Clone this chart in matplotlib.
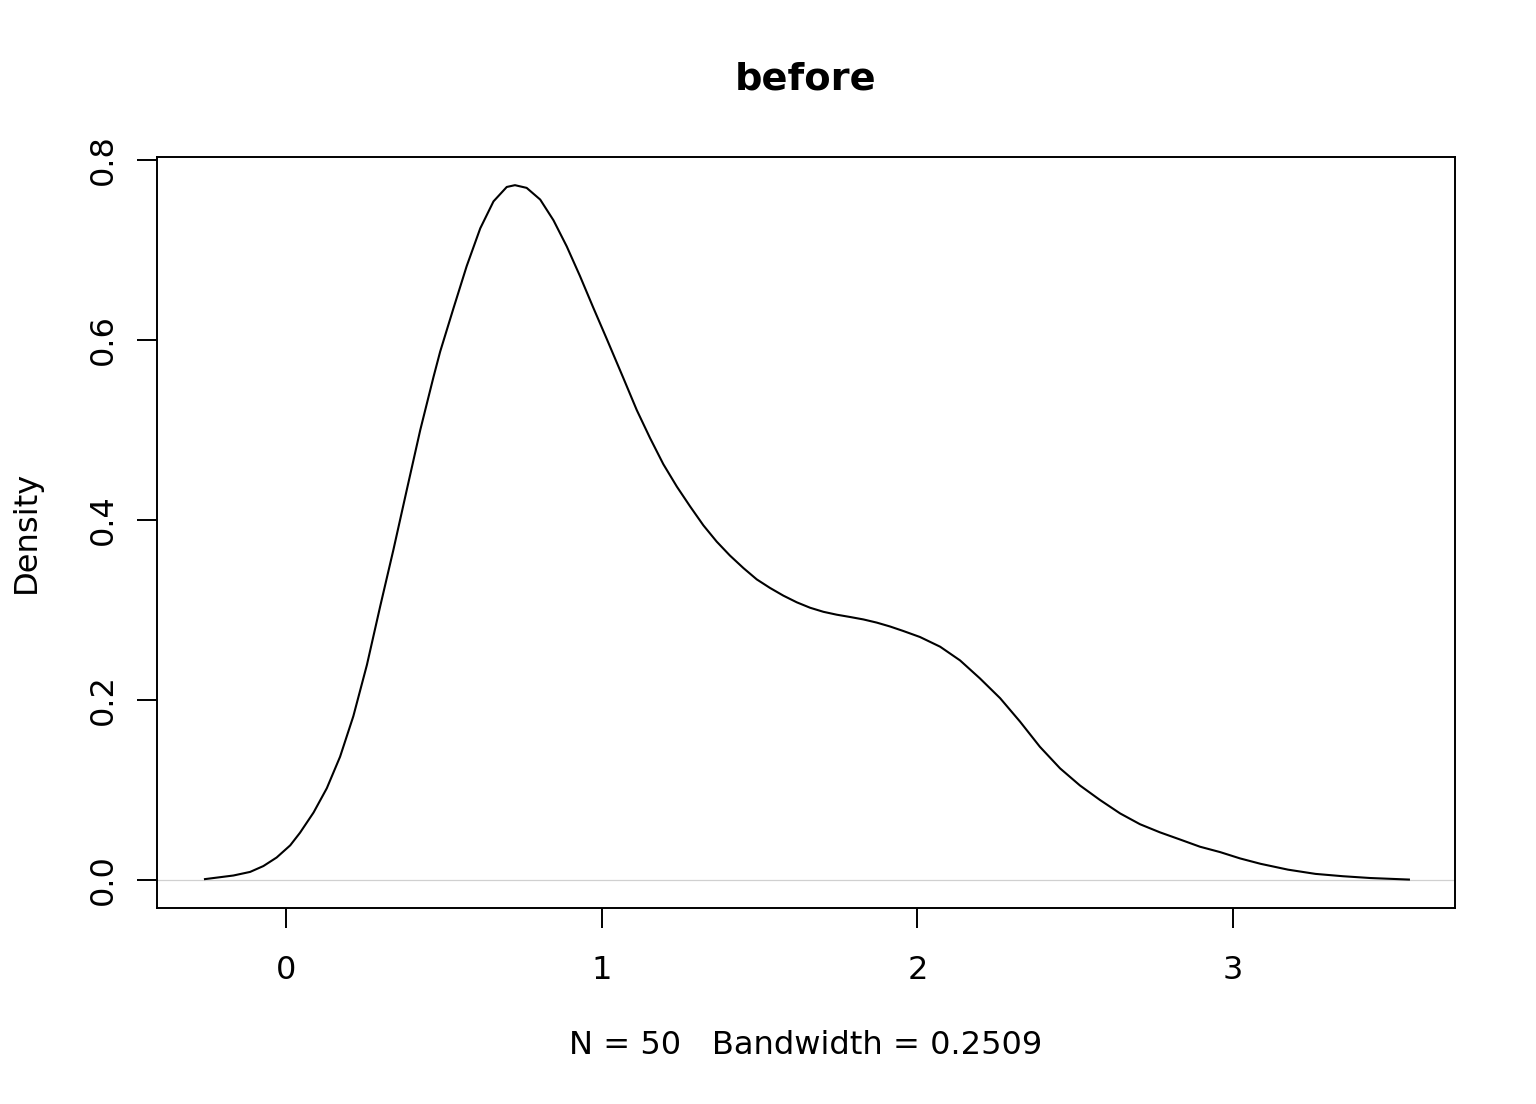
import matplotlib
matplotlib.use("Agg")
import matplotlib.pyplot as plt

# Density estimate
x_vals = [-0.257, -0.167, -0.114, -0.072, -0.030, 0.013, 0.044, 0.087, 0.129, 0.171,
          0.213, 0.256, 0.298, 0.340, 0.382, 0.425, 0.467, 0.488, 0.530, 0.572,
          0.615, 0.657, 0.699, 0.725, 0.762, 0.805, 0.847, 0.889, 0.931, 0.973,
          1.016, 1.068, 1.111, 1.153, 1.195, 1.238, 1.280, 1.322, 1.364, 1.406,
          1.449, 1.491, 1.533, 1.575, 1.618, 1.660, 1.702, 1.744, 1.787, 1.829,
          1.871, 1.913, 1.955, 2.008, 2.072, 2.135, 2.198, 2.262, 2.325, 2.388,
          2.452, 2.515, 2.578, 2.642, 2.705, 2.768, 2.832, 2.895, 2.959, 3.022,
          3.087, 3.174, 3.261, 3.348, 3.435, 3.557]
y_vals = [0.001, 0.005, 0.009, 0.0155, 0.025, 0.0385, 0.0525, 0.075, 0.102, 0.137,
          0.182, 0.239, 0.304, 0.367, 0.433, 0.500, 0.559, 0.587, 0.635, 0.682,
          0.724, 0.754, 0.770, 0.772, 0.769, 0.756, 0.733, 0.704, 0.671, 0.636,
          0.601, 0.558, 0.522, 0.491, 0.462, 0.437, 0.415, 0.394, 0.376, 0.3605,
          0.3465, 0.334, 0.3245, 0.316, 0.3085, 0.3025, 0.298, 0.2948, 0.2922, 0.2895,
          0.286, 0.2817, 0.2767, 0.270, 0.2592, 0.244, 0.224, 0.202, 0.176, 0.148,
          0.124, 0.105, 0.089, 0.074, 0.062, 0.053, 0.045, 0.037, 0.031, 0.024,
          0.018, 0.0115, 0.0068, 0.0042, 0.0022, 0.0005]

x_ticks = [0, 1, 2, 3]
y_ticks = [0.0, 0.2, 0.4, 0.6, 0.8]
y_tick_labels = ["0.0", "0.2", "0.4", "0.6", "0.8"]
title = "before"
x_label = "N = 50   Bandwidth = 0.2509"
y_label = "Density"

plt.rcParams['font.family'] = ['DejaVu Sans']
W, H = 1536, 1104
fig = plt.figure(figsize=(W / 100, H / 100), dpi=100)
ax = fig.add_axes([157 / W, 1 - 908 / H, (1455 - 157) / W, (908 - 157) / H])

ax.axhline(0, color='#d0d0d0', lw=0.9, zorder=1)
ax.plot(x_vals, y_vals, color='black', lw=1.5, zorder=2,
        solid_joinstyle='round')

ax.set_xlim(-0.409, 3.703)
ax.set_ylim(-0.0311, 0.8033)
ax.set_xticks(x_ticks)
ax.set_xticklabels([str(t) for t in x_ticks])
ax.set_yticks(y_ticks)
ax.set_yticklabels(y_tick_labels)

for s in ax.spines.values():
    s.set_linewidth(1.4)
    s.set_color('black')

ax.tick_params(axis='both', direction='out', length=14.4, width=1.4,
               labelsize=23, colors='black')
ax.tick_params(axis='x', pad=19.5)
ax.tick_params(axis='y', pad=13)
for lab in ax.get_yticklabels():
    lab.set_rotation(90)
    lab.set_va('center')

fig.text(806 / W, 1 - 89.3 / H, title, ha='center', va='baseline',
         fontsize=27.6, fontweight='bold')
fig.text(806 / W, 1 - 1054.3 / H, x_label, ha='center', va='baseline', fontsize=23.1)
fig.text(35 / W, 1 - 532 / H, y_label, ha='center', va='baseline', rotation=90,
         rotation_mode='anchor', fontsize=23.1)

fig.savefig("out.png", dpi=100)
